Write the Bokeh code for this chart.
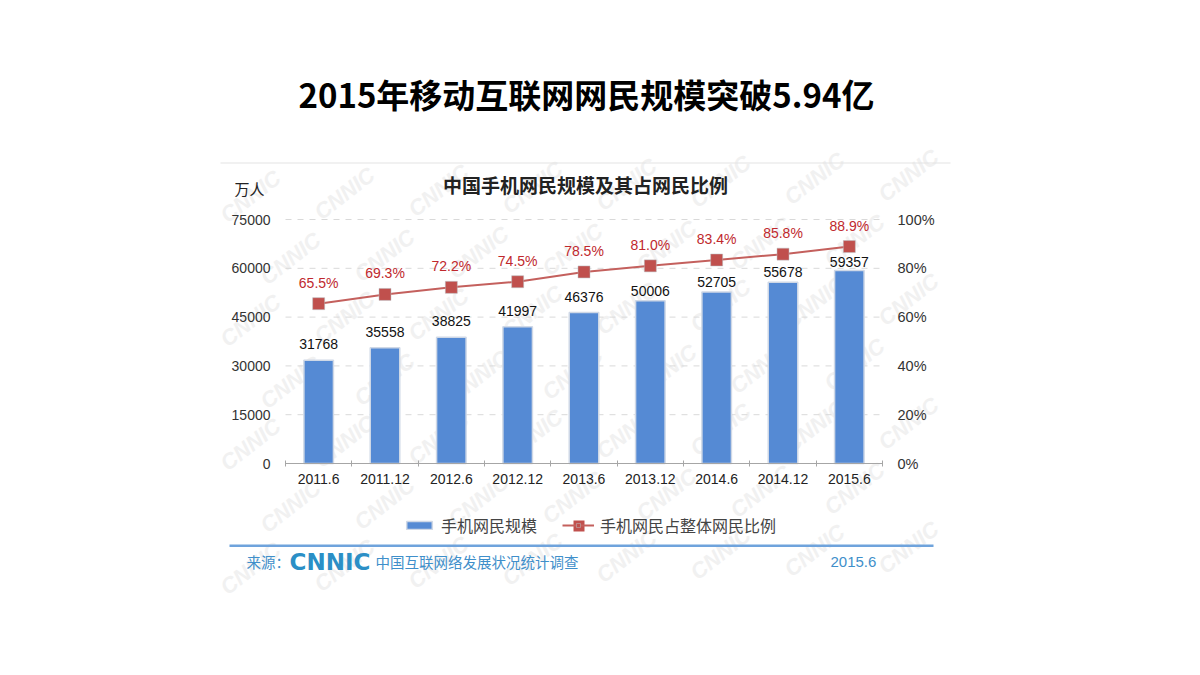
from bokeh.core.properties import value
from bokeh.embed import file_html
from bokeh.models import (BoxAnnotation, ColumnDataSource, FixedTicker, Label, Legend, LegendItem,
                          LinearAxis, PrintfTickFormatter, Range1d)
from bokeh.plotting import figure
from bokeh.resources import INLINE

periods = ["2011.6", "2011.12", "2012.6", "2012.12", "2013.6", "2013.12", "2014.6", "2014.12", "2015.6"]
users = [31768, 35558, 38825, 41997, 46376, 50006, 52705, 55678, 59357]
share = [65.5, 69.3, 72.2, 74.5, 78.5, 81.0, 83.4, 85.8, 88.9]
user_ticks = [0, 15000, 30000, 45000, 60000, 75000]
share_ticks = [0, 20, 40, 60, 80, 100]

CJK = "Noto Sans CJK SC"
LATIN = "Liberation Sans"
W, H = 1184, 659
# plot box in page pixels; the frame fills the whole canvas because annotations get clipped to it
LEFT, RIGHT, TOP, BASE = 285, 882, 219, 463
BLUE = "#558ad4"
RED = "#c0504d"
SOURCE_BLUE = "#3f8fca"
N = len(periods)


def frame_range(low, high, pix_low, pix_high, size):
    per_pix = (high - low) / (pix_high - pix_low)
    return Range1d(low - pix_low * per_pix, high + (size - pix_high) * per_pix)


xs = [i + 0.5 for i in range(N)]
# labels sit closer to the bars where the red line gets in the way
lift = [-16 if u < 50000 else -10 for u in users]
lift[-1] = -8
src = ColumnDataSource(dict(x=xs, users=users, share=share, lift=lift,
                            users_text=[str(u) for u in users],
                            share_text=["%.1f%%" % s for s in share]))

p = figure(width=W, height=H, output_backend="svg", toolbar_location=None,
           x_range=frame_range(0, N, LEFT, RIGHT, W),
           y_range=frame_range(0, 75000, H - BASE, H - TOP, H),
           x_axis_type=None, y_axis_type=None, min_border=0)
p.extra_y_ranges = {"share": frame_range(0, 100, H - BASE, H - TOP, H)}
p.outline_line_color = None
p.background_fill_color = "white"
p.border_fill_color = "white"
p.xgrid.visible = False
p.ygrid.visible = False


def page_label(text, x, y, size, color="#222222", font=CJK, style="normal", align="left", angle=0, level="annotation"):
    p.add_layout(Label(x=x, y=H - y, x_units="screen", y_units="screen", text=text,
                       text_font=font, text_font_size=size, text_color=color, text_font_style=style,
                       text_align=align, text_baseline="middle", angle=angle, angle_units="deg",
                       level=level))


def page_rule(x0, x1, y0, y1, color, level="annotation"):
    p.add_layout(BoxAnnotation(left=x0, right=x1, top=H - y0, bottom=H - y1, left_units="screen", right_units="screen",
                               top_units="screen", bottom_units="screen", fill_color=color, fill_alpha=1,
                               line_color=None, level=level))


# CNNIC watermark behind everything
for row in range(7):
    for col in range(9):
        wx = 250 + col * 94 + (row % 2) * 40
        wy = 196 + row * 62 - col * 3
        if wx < 935 and wy < 572:
            page_label("CNNIC", wx, wy, "22px", "#f1f1f1", LATIN, "bold italic", "center", 38, "underlay")

page_rule(220, 950, 162, 163, "#e4e4e4")
page_rule(229, 933, 544, 546.5, "#6fa3dc")

x_axis = LinearAxis(fixed_location=0, bounds=(0, N), ticker=FixedTicker(ticks=xs, minor_ticks=list(range(N + 1))),
                    major_label_overrides={x: t for x, t in zip(xs, periods)})
x_axis.major_tick_line_color = None
x_axis.minor_tick_line_color = "#a6a6a6"
x_axis.minor_tick_in = 3
x_axis.minor_tick_out = 3
x_axis.axis_line_color = "#a6a6a6"
x_axis.major_label_standoff = 4
x_axis.major_label_text_font = LATIN
x_axis.major_label_text_font_size = "14px"
x_axis.major_label_text_color = "#222222"
p.add_layout(x_axis, "below")

y_axis = LinearAxis(fixed_location=0, ticker=FixedTicker(ticks=user_ticks))
y_axis.formatter.use_scientific = False
y_axis.axis_line_color = None
y_axis.major_tick_line_color = None
y_axis.minor_tick_line_color = None
y_axis.major_label_standoff = 9
y_axis.major_label_text_font = LATIN
y_axis.major_label_text_font_size = "14px"
y_axis.major_label_text_color = "#333333"
p.add_layout(y_axis, "left")

share_axis = LinearAxis(fixed_location=N, y_range_name="share", ticker=FixedTicker(ticks=share_ticks),
                        formatter=PrintfTickFormatter(format="%d%%"))
share_axis.axis_line_color = None
share_axis.major_tick_line_color = None
share_axis.minor_tick_line_color = None
share_axis.major_label_standoff = 9
share_axis.major_label_text_font = LATIN
share_axis.major_label_text_font_size = "14.5px"
share_axis.major_label_text_color = "#333333"
p.add_layout(share_axis, "right")

# gridlines only over the plot box, a Grid would run across the whole frame
p.segment(x0=0, x1=N, y0=user_ticks[1:], y1=user_ticks[1:], line_color="#d9d9d9", line_dash="dashed", line_width=1)

bars = p.vbar(x="x", top="users", width=0.445, source=src, fill_color=BLUE, line_color="#cfd8e6", line_width=1.5)
line = p.line("x", "share", source=src, y_range_name="share", line_color="#c4605d", line_width=2)
marks = p.scatter("x", "share", source=src, y_range_name="share", marker="square", size=12,
                  fill_color=RED, line_color="#b9c0c4", line_width=0.5)

p.text("x", "users", text="users_text", source=src, y_offset="lift", text_align="center", text_baseline="middle",
       text_font=value(LATIN), text_font_size="14px", text_color="#111111")
p.text("x", "share", text="share_text", source=src, y_range_name="share", y_offset=-21, text_align="center",
       text_baseline="middle", text_font=value(LATIN), text_font_size="14px", text_color="#c0282d")

legend = Legend(items=[LegendItem(label="手机网民规模", renderers=[bars]),
                       LegendItem(label="手机网民占整体网民比例", renderers=[line, marks])],
                location=(403, H - 537), orientation="horizontal", border_line_color=None, background_fill_alpha=0,
                glyph_width=32, glyph_height=10, spacing=25, label_standoff=6, padding=0, margin=0,
                label_text_font=CJK, label_text_font_size="16px", label_text_color="#444444")
p.add_layout(legend)
# the legend shrinks its marker, so put the full size square on top
page_rule(573, 584, 520, 531, RED, "overlay")

page_label("2015年移动互联网网民规模突破5.94亿", 586, 93, "33px", "#000000", CJK, "bold", "center")
page_label("中国手机网民规模及其占网民比例", 585, 184, "19px", "#222222", CJK, "bold", "center")
page_label("万人", 234, 188, "15px", "#222222")
page_label("来源：", 246, 561, "14.5px", SOURCE_BLUE)
page_label("CNNIC", 289, 561, "23px", "#2b8fc6", "DejaVu Sans", "bold")
page_label("中国互联网络发展状况统计调查", 375, 561, "14.5px", SOURCE_BLUE)
page_label("2015.6", 830, 561, "15px", SOURCE_BLUE, LATIN)

open("out.html", "w").write(file_html(p, INLINE))
